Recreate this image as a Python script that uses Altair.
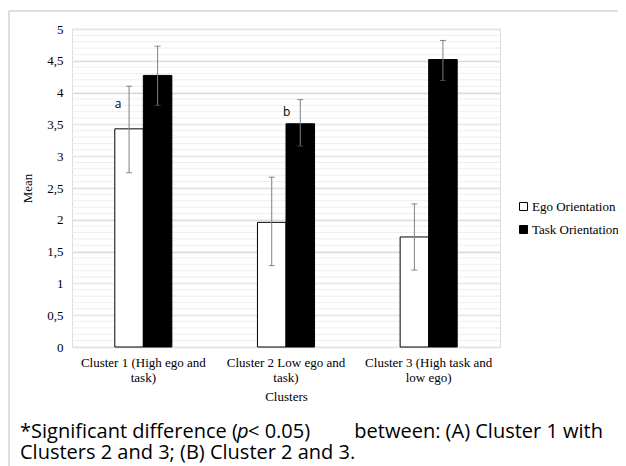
import altair as alt
import pandas as pd

clusters = ["Cluster 1 (High ego and\ntask)", "Cluster 2 Low ego and\ntask)", "Cluster 3 (High task and\nlow ego)"]
series = ["Ego Orientation", "Task Orientation"]
ego_mean = [3.43, 1.96, 1.73]
ego_lo = [2.74, 1.28, 1.21]
ego_hi = [4.10, 2.67, 2.25]
task_mean = [4.27, 3.51, 4.52]
task_lo = [3.80, 3.16, 4.19]
task_hi = [4.73, 3.89, 4.82]
y_ticks = [0, 0.5, 1, 1.5, 2, 2.5, 3, 3.5, 4, 4.5, 5]
minor_grid = [i / 10 for i in range(51)]
note_a = {"cluster": clusters[0], "series": series[0], "y": 3.82, "label": "a"}
note_b = {"cluster": clusters[1], "series": series[0], "y": 3.70, "label": "b"}
caption1_parts = ["*Significant difference (", "p", "< 0.05)", "between: (A) Cluster 1 with"]
caption2 = "Clusters 2 and 3; (B) Cluster 2 and 3."

rows = []
for i, c in enumerate(clusters):
    rows.append({"cluster": c, "series": series[0], "mean": ego_mean[i], "lo": ego_lo[i], "hi": ego_hi[i]})
    rows.append({"cluster": c, "series": series[1], "mean": task_mean[i], "lo": task_lo[i], "hi": task_hi[i]})
df = pd.DataFrame(rows)
grid_df = pd.DataFrame({"v": minor_grid})

SERIF = "Liberation Serif"
SANS = "Open Sans"

W, H = 428, 318

xaxis = alt.Axis(title="Clusters", labelAngle=0, labelFont=SERIF, labelFontSize=13,
                 labelColor="#000", labelExpr="split(datum.label, '\\n')",
                 labelLineHeight=15, labelPadding=9, labelLimit=300,
                 domain=False, ticks=False, grid=False,
                 titleFont=SERIF, titleFontSize=13, titleFontWeight="normal",
                 titleColor="#000", titlePadding=6)
xscale = alt.Scale(paddingInner=0.6, paddingOuter=0.3)
yaxis = alt.Axis(title="Mean", values=y_ticks, labelExpr="replace(toString(datum.value), '.', ',')",
                 labelFont=SERIF, labelFontSize=13, labelColor="#000", labelPadding=9,
                 labelOverlap=False,
                 domain=False, ticks=False, grid=True, gridColor="#d9d9d9", gridWidth=1.5,
                 titleFont=SERIF, titleFontSize=13, titleFontWeight="normal",
                 titleColor="#000", titlePadding=12)
yscale = alt.Scale(domain=[0, 5], nice=False)


def X():
    return alt.X("cluster:N", sort=clusters, scale=xscale, axis=xaxis)


def XO():
    return alt.XOffset("series:N", sort=series, scale=alt.Scale(paddingInner=0, paddingOuter=0))


def Y(field):
    return alt.Y(field, scale=yscale, axis=yaxis)


grid = alt.Chart(grid_df).mark_rule(color="#eeeeee", strokeWidth=1).encode(y=Y("v:Q"))

bars = alt.Chart(df).mark_bar(stroke="#000", strokeWidth=1).encode(
    x=X(), xOffset=XO(),
    y=Y("mean:Q"),
    fill=alt.Fill("series:N", sort=series,
                  scale=alt.Scale(domain=series, range=["#ffffff", "#000000"]),
                  legend=alt.Legend(title=None, orient="none", legendX=445, legendY=171,
                                    symbolType="square", symbolSize=64, symbolStrokeColor="#000",
                                    symbolStrokeWidth=1, labelFont=SERIF, labelFontSize=13,
                                    labelColor="#000", labelOffset=2, rowPadding=9)),
)

err = alt.Chart(df).mark_rule(color="#808080", strokeWidth=1).encode(
    x=X(), xOffset=XO(), y=Y("lo:Q"), y2="hi:Q")
cap_lo = alt.Chart(df).mark_tick(color="#595959", size=6, thickness=1).encode(
    x=X(), xOffset=XO(), y=Y("lo:Q"))
cap_hi = alt.Chart(df).mark_tick(color="#595959", size=6, thickness=1).encode(
    x=X(), xOffset=XO(), y=Y("hi:Q"))

ann_a = alt.Chart(pd.DataFrame([note_a])).mark_text(font=SANS, fontSize=12, dx=-11, color="#000").encode(
    x=X(), xOffset=XO(), y=Y("y:Q"), text="label:N")
ann_b = alt.Chart(pd.DataFrame([note_b])).mark_text(font=SANS, fontSize=12, dx=15, color="#000").encode(
    x=X(), xOffset=XO(), y=Y("y:Q"), text="label:N")

cap_style = dict(font=SANS, fontSize=20, baseline="middle", color="#000")


def caption(text, x, y, align="left", italic=False):
    extra = {"fontStyle": "italic"} if italic else {}
    return alt.Chart(pd.DataFrame({"t": [text]})).mark_text(align=align, **cap_style, **extra).encode(
        x=alt.value(x), y=alt.value(y), text="t:N")


c1 = caption(caption1_parts[0], -52, 403)
c2 = caption(caption1_parts[1], 165, 403, italic=True)
c3 = caption(caption1_parts[2], 176, 403)
c4 = caption(caption1_parts[3], 531, 403, align="right")
c6 = caption(caption2, -52, 424)

frame_left = alt.Chart(pd.DataFrame({"k": [0]})).mark_rule(color="#bfbfbf", strokeWidth=1).encode(
    x=alt.value(-63), y=alt.value(-18), y2=alt.value(460))
frame_top = alt.Chart(pd.DataFrame({"k": [0]})).mark_rule(color="#bfbfbf", strokeWidth=1).encode(
    x=alt.value(-63), x2=alt.value(560), y=alt.value(-18))

chart = alt.layer(grid, bars, err, cap_lo, cap_hi, ann_a, ann_b, c1, c2, c3, c4, c6,
                  frame_left, frame_top).properties(
    width=W, height=H,
    autosize=alt.AutoSizeParams(type="none"),
    padding={"left": 64, "top": 21, "right": 118, "bottom": 131},
).configure_view(stroke=None).configure(background="#ffffff")

chart.save("out.html", embed_options={"renderer": "svg", "actions": False})
